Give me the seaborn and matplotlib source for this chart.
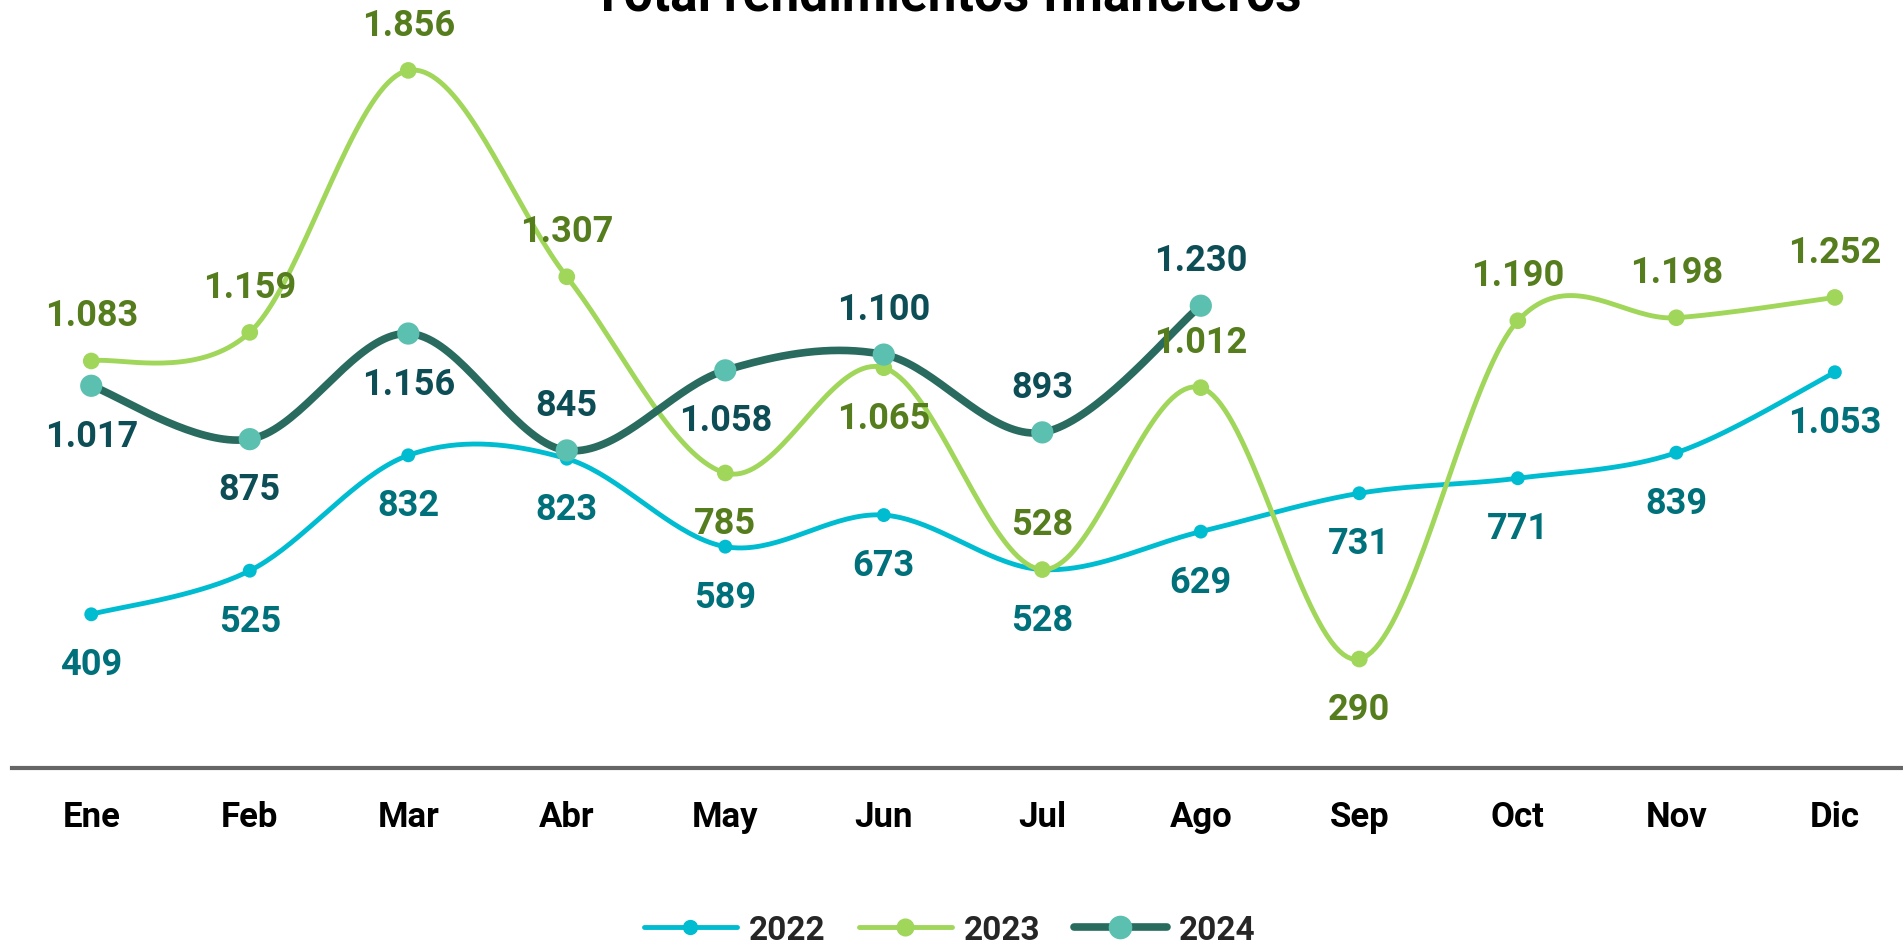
import numpy as np
import pandas as pd
import matplotlib
matplotlib.use("Agg")
import matplotlib.pyplot as plt
import seaborn as sns
from matplotlib.lines import Line2D

# ── data ─────────────────────────────────────────────────────────────
months = ["Ene", "Feb", "Mar", "Abr", "May", "Jun",
          "Jul", "Ago", "Sep", "Oct", "Nov", "Dic"]
v2022 = [409, 525, 832, 823, 589, 673, 528, 629, 731, 771, 839, 1053]
v2023 = [1083, 1159, 1856, 1307, 785, 1065, 528, 1012, 290, 1190, 1198, 1252]
v2024 = [1017, 875, 1156, 845, 1058, 1100, 893, 1230]

# label side per point: +1 above, -1 below
pos2022 = [-1] * 12
pos2023 = [1, 1, 1, 1, -1, -1, 1, 1, -1, 1, 1, 1]
pos2024 = [-1, -1, -1, 1, -1, 1, 1, 1]

series = [
    ("2022", v2022, pos2022, "#00BCD0", "#00BCD0", "#00707A", 3.5, 10),
    ("2023", v2023, pos2023, "#A0D65A", "#A0D65A", "#557D1E", 3.5, 12),
    ("2024", v2024, pos2024, "#2A6B5F", "#5BC0B0", "#0D4D55", 5.5, 16),
]


def smooth(y, n=40):
    """Excel-like smoothed line (cubic Bezier, Catmull-Rom tangents)."""
    x = np.arange(len(y), dtype=float)
    y = np.asarray(y, dtype=float)
    px = np.concatenate([[x[0]], x, [x[-1]]])
    py = np.concatenate([[y[0]], y, [y[-1]]])
    xs, ys = [], []
    t = np.linspace(0, 1, n)
    for i in range(len(y) - 1):
        p0 = np.array([x[i], y[i]])
        p3 = np.array([x[i + 1], y[i + 1]])
        p1 = p0 + (np.array([px[i + 2], py[i + 2]]) - np.array([px[i], py[i]])) / 6
        p2 = p3 - (np.array([px[i + 3], py[i + 3]]) - np.array([px[i + 1], py[i + 1]])) / 6
        b = ((1 - t) ** 3)[:, None] * p0 + (3 * (1 - t) ** 2 * t)[:, None] * p1 \
            + (3 * (1 - t) * t ** 2)[:, None] * p2 + (t ** 3)[:, None] * p3
        xs.extend(b[:, 0])
        ys.extend(b[:, 1])
    return np.array(xs), np.array(ys)


sns.set_theme(style="white")
plt.rcParams["font.family"] = ["Roboto", "DejaVu Sans"]

fig = plt.figure(figsize=(19.03, 9.45), dpi=100)
ax = fig.add_axes([12 / 1903, 0.1862, 1 - 12 / 1903, 0.8138])

handles = []
for name, vals, side, lc, mc, tc, lw, ms in series:
    sx, sy = smooth(vals)
    sns.lineplot(x=sx, y=sy, ax=ax, color=lc, linewidth=lw, sort=False,
                 estimator=None, legend=False)
    pts = pd.DataFrame({"x": np.arange(len(vals)), "y": vals})
    sns.scatterplot(data=pts, x="x", y="y", ax=ax, color=mc, s=ms ** 2,
                    edgecolor="none", zorder=3, legend=False)
    for i, (v, s) in enumerate(zip(vals, side)):
        lab = f"{v:,}".replace(",", ".")
        ax.annotate(lab, (i, v), xytext=(0, 33 if s > 0 else -36),
                    textcoords="offset points", ha="center", va="center",
                    fontsize=26, fontweight="bold", color=tc, zorder=5)
    handles.append(Line2D([], [], color=lc, linewidth=lw, marker="o",
                          markersize=ms, markerfacecolor=mc,
                          markeredgecolor=mc, solid_capstyle="round"))

ax.set_xlim(-0.5, 11.43)
ax.set_ylim(0, 2046)
ax.set_xticks(range(len(months)))
ax.set_xticklabels(months, fontsize=25, fontweight="bold", color="black")
ax.set_yticks([])
ax.set_xlabel("")
ax.set_ylabel("")
ax.tick_params(axis="x", length=0, pad=23)
for sp in ("top", "right", "left"):
    ax.spines[sp].set_visible(False)
ax.spines["bottom"].set_color("#666666")
ax.spines["bottom"].set_linewidth(3)

fig.legend(handles, ["2022", "2023", "2024"], loc="center",
           bbox_to_anchor=(0.499, 1 - 931 / 945), ncol=3, frameon=False,
           handlelength=2.8, columnspacing=1.0, handletextpad=0.35,
           prop={"size": 24, "weight": "bold"})

fig.text(0.4976, 1 - 12 / 945, "Total rendimientos financieros",
         ha="center", va="baseline", fontsize=37, fontweight="bold",
         color="black")

fig.savefig("out.png", dpi=100)
